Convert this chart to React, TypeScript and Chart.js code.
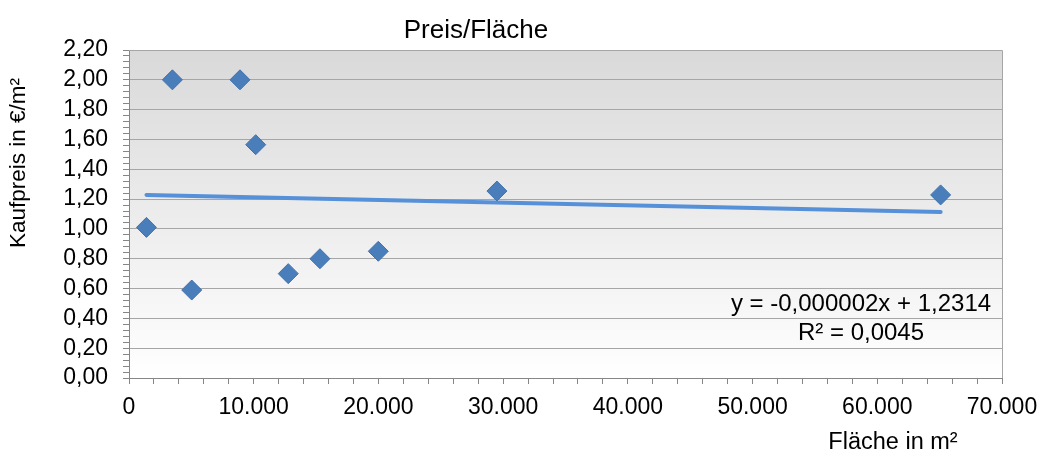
import React, { useEffect, useRef } from "react";
import { Chart, registerables } from "chart.js";

Chart.register(...registerables);

const TITLE = "Preis/Fläche";
const X_TITLE = "Fläche in m²";
const Y_TITLE = "Kaufpreis in €/m²";
const EQUATION = "y = -0,000002x + 1,2314";
const R_SQUARED = "R² = 0,0045";

const areaValues = [1400, 3480, 5030, 8900, 10160, 12770, 15310, 19990, 29500, 65080];
const priceValues = [1.01, 2.0, 0.59, 2.0, 1.565, 0.7, 0.8, 0.85, 1.254, 1.228];

const X_MIN = 0;
const X_MAX = 70000;
const X_STEP = 2000;
const X_LABEL_STEP = 10000;
const Y_MIN = 0;
const Y_MAX = 2.2;
const Y_STEP = 0.04;
const Y_LABEL_STEP = 0.2;

const FONT = "'Liberation Sans', Arial, sans-serif";

function regression(xs: number[], ys: number[]) {
  const n = xs.length;
  const mx = xs.reduce((a, b) => a + b, 0) / n;
  const my = ys.reduce((a, b) => a + b, 0) / n;
  let sxy = 0;
  let sxx = 0;
  for (let i = 0; i < n; i++) {
    sxy += (xs[i] - mx) * (ys[i] - my);
    sxx += (xs[i] - mx) * (xs[i] - mx);
  }
  const slope = sxy / sxx;
  return { slope, intercept: my - slope * mx };
}

function fmtThousands(v: number) {
  return String(Math.round(v)).replace(/\B(?=(\d{3})+(?!\d))/g, ".");
}

function isMultiple(v: number, step: number) {
  const r = v / step;
  return Math.abs(r - Math.round(r)) < 1e-6;
}

export default function App() {
  const ref = useRef<HTMLCanvasElement | null>(null);

  useEffect(() => {
    const canvas = ref.current;
    if (!canvas) return;
    const { slope, intercept } = regression(areaValues, priceValues);
    const xMinData = Math.min(...areaValues);
    const xMaxData = Math.max(...areaValues);
    const trend = [
      { x: xMinData, y: intercept + slope * xMinData },
      { x: xMaxData, y: intercept + slope * xMaxData },
    ];

    const decor = {
      id: "decor",
      beforeDraw(chart: any) {
        const { ctx, chartArea: a } = chart;
        ctx.save();
        const g = ctx.createLinearGradient(0, a.top, 0, a.bottom);
        g.addColorStop(0, "#d9d9d9");
        g.addColorStop(1, "#ffffff");
        ctx.fillStyle = g;
        ctx.fillRect(a.left, a.top, a.right - a.left, a.bottom - a.top);
        ctx.restore();
      },
      beforeDatasetsDraw(chart: any) {
        const { ctx, chartArea: a } = chart;
        ctx.save();
        ctx.strokeStyle = "#a6a6a6";
        ctx.lineWidth = 1;
        ctx.beginPath();
        ctx.moveTo(a.left, a.top + 0.5);
        ctx.lineTo(a.right + 0.5, a.top + 0.5);
        ctx.lineTo(a.right + 0.5, a.bottom);
        ctx.stroke();
        ctx.restore();
      },
      afterDraw(chart: any) {
        const { ctx, chartArea: a } = chart;
        ctx.save();
        ctx.fillStyle = "#000000";
        ctx.textBaseline = "alphabetic";
        ctx.textAlign = "center";
        ctx.font = `26px ${FONT}`;
        ctx.fillText(TITLE, 476, 38);
        ctx.font = `23.5px ${FONT}`;
        ctx.fillText(X_TITLE, 893, 449);
        ctx.font = `24px ${FONT}`;
        ctx.fillText(EQUATION, a.right - 141, 311);
        ctx.fillText(R_SQUARED, a.right - 141, 340);
        ctx.font = `22.5px ${FONT}`;
        ctx.translate(25, 163);
        ctx.rotate(-Math.PI / 2);
        ctx.fillText(Y_TITLE, 0, 0);
        ctx.restore();
      },
    };

    const chart = new Chart(canvas, {
      type: "scatter",
      data: {
        datasets: [
          {
            label: "Preis",
            data: areaValues.map((x, i) => ({ x, y: priceValues[i] })),
            pointStyle: "rectRot",
            pointRadius: 10,
            backgroundColor: "#4a7ebb",
            borderColor: "#4272ad",
            borderWidth: 1,
            order: 1,
          },
          {
            label: "Trend",
            type: "line",
            data: trend,
            showLine: true,
            borderColor: "#5590d8",
            borderWidth: 4,
            borderCapStyle: "round",
            pointRadius: 0,
            fill: false,
            order: 2,
          } as any,
        ],
      },
      options: {
        responsive: false,
        animation: false,
        layout: { padding: { top: 50, right: 39, left: 0, bottom: 0 } },
        plugins: {
          legend: { display: false },
          title: { display: false },
          tooltip: { enabled: false },
        },
        scales: {
          x: {
            type: "linear",
            min: X_MIN,
            max: X_MAX,
            afterFit(scale: any) {
              scale.height = 75;
              scale.paddingLeft = 0;
              scale.paddingRight = 0;
            },
            ticks: {
              stepSize: X_STEP,
              autoSkip: false,
              maxRotation: 0,
              minRotation: 0,
              maxTicksLimit: 1000,
              padding: 10,
              color: "#000000",
              font: { family: FONT, size: 23 },
              callback: (v: any) => (isMultiple(Number(v), X_LABEL_STEP) ? fmtThousands(Number(v)) : ""),
            },
            grid: {
              drawOnChartArea: false,
              drawTicks: true,
              tickLength: 6,
              tickColor: "#868686",
              color: "#868686",
            },
            border: { display: true, color: "#868686", width: 1 },
          },
          y: {
            type: "linear",
            min: Y_MIN,
            max: Y_MAX,
            afterFit(scale: any) {
              scale.width = 129;
              scale.paddingTop = 0;
              scale.paddingBottom = 0;
            },
            ticks: {
              stepSize: Y_STEP,
              autoSkip: false,
              maxTicksLimit: 1000,
              padding: 15,
              color: "#000000",
              font: { family: FONT, size: 23 },
              callback: (v: any) =>
                isMultiple(Number(v), Y_LABEL_STEP) ? Number(v).toFixed(2).replace(".", ",") : "",
            },
            grid: {
              drawOnChartArea: true,
              drawTicks: true,
              tickLength: 6,
              tickColor: "#868686",
              color: (c: any) =>
                c.tick && isMultiple(c.tick.value, Y_LABEL_STEP) && c.tick.value > 0 ? "#a6a6a6" : "rgba(0,0,0,0)",
            },
            border: { display: true, color: "#868686", width: 1 },
          },
        },
      },
      plugins: [decor],
    });
    return () => chart.destroy();
  }, []);

  return (
    <div style={{ position: "fixed", left: 0, top: 0, width: 1041, height: 453, background: "#ffffff" }}>
      <canvas ref={ref} width={1041} height={453} style={{ display: "block", width: 1041, height: 453 }} />
    </div>
  );
}
